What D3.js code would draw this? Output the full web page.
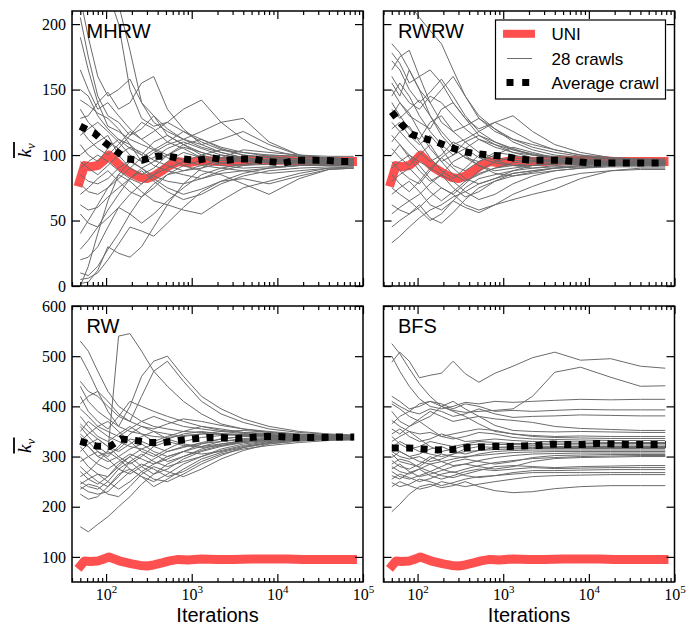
<!DOCTYPE html>
<html>
<head>
<meta charset="utf-8">
<script src="https://cdn.jsdelivr.net/npm/d3@7"></script>
<style>
  html, body { margin: 0; padding: 0; background: #fff; }
  svg { display: block; }
</style>
</head>
<body>
<svg id="chart" width="694" height="626"></svg>
<script>
// Iterations at which every individual crawl is sampled
const crawlIters = [50, 62, 80, 105, 140, 190, 260, 360, 520, 800, 1300, 2200, 4000, 8000, 18000, 40000, 78000];

// UNI: uniform sample reference, shared by all four panels
const uniIters = [47, 56, 65, 80, 95, 108, 125, 150, 200, 250, 300, 360, 450, 550, 700, 900, 1300, 2000, 3000, 5000, 8000, 13000, 20000, 35000, 55000, 85000];
const uniKv    = [76, 92, 91, 92, 96, 100, 96, 91, 86, 83, 82, 84, 88, 92, 95, 94, 96, 95, 95, 96, 96, 96, 95, 95, 95, 95];

// Average crawl per method
const mhrwAvgIters = [50, 72, 95, 131, 176, 264, 378, 541, 798, 1163, 1700, 2500, 3640, 5350, 7680, 11800, 17250, 25200, 37000, 54400, 79000];
const mhrwAvgKv    = [122, 117, 110, 103, 97, 96, 99, 99, 97, 96, 98, 96, 97, 97, 95, 94, 96, 96, 96, 95, 95];
const rwrwAvgIters = [50, 64, 84, 115, 166, 237, 331, 474, 697, 1035, 1500, 2220, 3275, 4780, 7030, 10330, 15070, 22600, 33800, 49400, 79000];
const rwrwAvgKv    = [133, 124, 116, 113, 110, 106, 103, 101, 100, 99, 97, 96, 96, 96, 95, 94, 94, 94, 94, 94, 94];
const rwAvgIters   = [50, 77, 110, 150, 214, 315, 465, 697, 1016, 1523, 2220, 3270, 4800, 7000, 10330, 15500, 22600, 33800, 49800, 79000];
const rwAvgKv      = [330, 321, 320, 335, 332, 328, 328, 332, 335, 338, 338, 336, 338, 340, 340, 338, 338, 338, 339, 339];
const bfsAvgIters  = [50, 79, 117, 171, 255, 375, 552, 806, 1186, 1762, 2590, 3810, 5660, 8330, 12280, 18200, 26800, 39400, 79000];
const bfsAvgKv     = [317, 317, 315, 313, 314, 318, 319, 320, 320, 321, 322, 325, 324, 324, 326, 325, 324, 324, 324];

// 28 individual crawls per method (values at crawlIters)
const mhrwCrawls = [
  [240, 235, 230, 225, 200, 150, 128, 122, 125, 118, 110, 104, 100, 98, 97, 96, 96],
  [235, 230, 225, 220, 215, 180, 140, 130, 120, 112, 106, 102, 98, 96, 95, 95, 95],
  [220, 190, 160, 145, 150, 158, 140, 125, 118, 112, 108, 112, 118, 108, 100, 97, 97],
  [205, 175, 145, 130, 125, 115, 120, 130, 115, 108, 100, 96, 95, 97, 96, 95, 95],
  [190, 165, 140, 122, 118, 112, 108, 104, 110, 118, 112, 106, 102, 100, 99, 98, 97],
  [165, 150, 135, 140, 130, 120, 112, 118, 125, 135, 142, 125, 112, 104, 99, 97, 96],
  [150, 145, 130, 120, 112, 105, 100, 110, 115, 108, 102, 98, 96, 95, 94, 94, 94],
  [142, 138, 132, 128, 120, 108, 95, 102, 108, 112, 118, 125, 128, 110, 100, 97, 96],
  [135, 125, 118, 110, 105, 115, 125, 120, 110, 105, 98, 94, 92, 93, 94, 95, 95],
  [128, 130, 140, 148, 135, 140, 155, 160, 135, 120, 108, 102, 98, 95, 95, 94, 94],
  [120, 112, 105, 100, 108, 118, 112, 105, 100, 96, 92, 90, 88, 90, 92, 93, 93],
  [115, 120, 125, 118, 110, 100, 95, 98, 105, 110, 105, 100, 97, 96, 95, 95, 95],
  [108, 100, 95, 105, 112, 108, 100, 92, 88, 85, 82, 88, 92, 95, 96, 96, 96],
  [100, 105, 110, 115, 100, 90, 85, 90, 100, 108, 112, 105, 100, 98, 97, 97, 97],
  [95, 90, 85, 92, 100, 106, 102, 96, 92, 88, 90, 94, 96, 94, 93, 93, 93],
  [90, 95, 100, 95, 88, 82, 78, 85, 95, 102, 98, 92, 90, 91, 92, 92, 92],
  [85, 80, 78, 82, 90, 96, 90, 84, 80, 78, 82, 86, 88, 86, 88, 90, 90],
  [78, 72, 70, 75, 82, 90, 98, 104, 98, 92, 88, 85, 78, 70, 82, 89, 90],
  [70, 75, 82, 88, 80, 72, 68, 75, 85, 92, 96, 100, 98, 95, 94, 94, 94],
  [62, 58, 60, 68, 75, 82, 88, 80, 72, 66, 70, 78, 84, 88, 90, 91, 91],
  [55, 48, 45, 52, 60, 70, 78, 85, 90, 95, 100, 104, 102, 99, 97, 96, 96],
  [40, 50, 62, 75, 85, 80, 72, 65, 62, 58, 55, 65, 75, 80, 86, 90, 91],
  [28, 35, 45, 58, 70, 82, 90, 95, 100, 106, 102, 98, 95, 94, 94, 94, 94],
  [20, 22, 30, 45, 60, 55, 48, 55, 65, 75, 85, 90, 93, 95, 96, 96, 96],
  [10, 8, 15, 28, 40, 55, 68, 78, 85, 88, 92, 96, 98, 100, 99, 98, 97],
  [5, 6, 10, 20, 32, 45, 42, 38, 48, 60, 72, 80, 82, 78, 84, 89, 90],
  [2, 3, 12, 30, 25, 22, 30, 45, 62, 78, 90, 98, 104, 102, 100, 99, 99],
  [0, 15, 40, 65, 85, 95, 90, 82, 75, 70, 74, 80, 86, 90, 92, 93, 93]
];

const rwrwCrawls = [
  [260, 230, 215, 205, 195, 185, 165, 145, 128, 118, 112, 108, 104, 100, 97, 96, 96],
  [185, 178, 165, 150, 140, 150, 160, 145, 130, 120, 110, 104, 100, 98, 97, 96, 95],
  [178, 170, 155, 160, 165, 155, 140, 128, 120, 125, 130, 118, 108, 102, 98, 97, 96],
  [172, 165, 150, 140, 148, 158, 145, 130, 118, 110, 105, 100, 98, 96, 95, 94, 94],
  [165, 175, 180, 160, 140, 125, 118, 122, 128, 120, 112, 106, 102, 99, 97, 96, 96],
  [160, 150, 140, 135, 145, 140, 130, 120, 112, 106, 102, 100, 99, 97, 96, 95, 95],
  [155, 145, 165, 150, 130, 118, 108, 112, 118, 125, 118, 110, 104, 100, 98, 97, 97],
  [150, 140, 130, 125, 120, 135, 140, 128, 115, 108, 104, 101, 98, 96, 95, 94, 94],
  [145, 155, 145, 130, 118, 108, 100, 105, 112, 108, 102, 98, 96, 95, 94, 94, 94],
  [140, 130, 120, 112, 125, 130, 118, 110, 102, 98, 96, 95, 96, 95, 94, 93, 93],
  [135, 128, 135, 142, 130, 115, 105, 98, 95, 100, 106, 102, 98, 96, 95, 95, 95],
  [130, 140, 132, 118, 105, 95, 100, 110, 115, 110, 104, 100, 97, 95, 94, 94, 94],
  [125, 118, 110, 102, 95, 100, 110, 105, 98, 94, 92, 92, 93, 94, 94, 94, 94],
  [120, 125, 115, 108, 115, 105, 92, 88, 95, 102, 100, 97, 95, 94, 93, 93, 93],
  [115, 108, 100, 95, 90, 98, 105, 98, 92, 88, 90, 92, 94, 95, 95, 95, 95],
  [110, 118, 122, 110, 98, 88, 82, 90, 100, 96, 92, 90, 91, 92, 93, 93, 93],
  [105, 98, 92, 100, 108, 95, 85, 80, 85, 90, 94, 96, 96, 95, 94, 94, 94],
  [100, 108, 98, 88, 80, 85, 95, 100, 92, 86, 84, 86, 88, 90, 92, 92, 92],
  [95, 88, 82, 78, 88, 98, 90, 82, 78, 82, 88, 92, 94, 93, 93, 93, 93],
  [90, 95, 100, 92, 82, 75, 70, 78, 88, 95, 98, 96, 95, 94, 93, 93, 93],
  [85, 78, 72, 80, 90, 85, 75, 68, 72, 80, 86, 88, 90, 91, 92, 92, 92],
  [80, 85, 90, 82, 72, 65, 72, 80, 86, 90, 92, 94, 95, 95, 95, 95, 95],
  [75, 70, 65, 70, 78, 85, 80, 72, 66, 70, 78, 84, 88, 90, 91, 91, 91],
  [70, 75, 80, 72, 62, 58, 65, 75, 82, 85, 88, 90, 92, 93, 94, 94, 94],
  [62, 58, 55, 60, 68, 75, 70, 62, 58, 62, 66, 70, 74, 82, 88, 90, 90],
  [55, 60, 65, 58, 50, 55, 65, 60, 56, 62, 70, 76, 82, 86, 88, 89, 89],
  [45, 50, 55, 62, 52, 48, 56, 66, 75, 80, 84, 87, 90, 91, 92, 92, 92],
  [33, 38, 45, 52, 58, 62, 68, 72, 78, 82, 86, 88, 90, 92, 93, 93, 93]
];

const rwCrawls = [
  [530, 510, 470, 430, 400, 385, 370, 360, 355, 350, 348, 346, 344, 342, 341, 340, 340],
  [330, 320, 300, 310, 540, 545, 510, 470, 440, 410, 385, 365, 355, 348, 344, 342, 341],
  [450, 430, 420, 400, 380, 370, 420, 470, 490, 450, 410, 385, 368, 355, 348, 344, 342],
  [500, 470, 430, 390, 360, 400, 460, 490, 500, 460, 420, 395, 375, 360, 350, 345, 343],
  [420, 390, 370, 355, 380, 410, 400, 390, 380, 370, 360, 352, 348, 346, 343, 341, 340],
  [405, 420, 430, 410, 385, 370, 360, 355, 365, 375, 370, 362, 355, 350, 345, 342, 341],
  [395, 380, 360, 350, 340, 355, 370, 380, 370, 360, 355, 350, 346, 343, 341, 340, 339],
  [380, 360, 340, 330, 345, 360, 345, 330, 340, 350, 360, 355, 348, 344, 341, 340, 339],
  [365, 350, 335, 320, 310, 325, 340, 350, 345, 340, 345, 350, 352, 348, 344, 341, 340],
  [360, 340, 320, 305, 315, 335, 330, 320, 310, 318, 328, 335, 340, 342, 340, 339, 338],
  [350, 370, 355, 340, 330, 320, 315, 325, 335, 345, 350, 345, 342, 340, 339, 338, 338],
  [345, 330, 310, 300, 320, 345, 360, 350, 335, 325, 320, 325, 332, 336, 337, 337, 337],
  [340, 320, 300, 290, 300, 315, 325, 310, 300, 310, 320, 330, 336, 338, 338, 337, 337],
  [330, 345, 360, 370, 350, 330, 310, 300, 315, 330, 338, 342, 344, 342, 340, 339, 338],
  [320, 300, 285, 275, 290, 305, 295, 285, 295, 310, 325, 335, 340, 341, 340, 339, 338],
  [310, 325, 335, 320, 300, 285, 300, 320, 330, 322, 318, 322, 328, 332, 335, 336, 336],
  [300, 280, 265, 260, 280, 300, 315, 305, 290, 300, 315, 325, 330, 334, 336, 337, 337],
  [290, 300, 310, 295, 275, 265, 280, 295, 310, 320, 326, 330, 334, 336, 337, 337, 337],
  [280, 265, 250, 240, 260, 290, 305, 290, 280, 290, 300, 312, 322, 330, 334, 336, 336],
  [270, 255, 245, 260, 285, 300, 280, 265, 275, 295, 310, 320, 328, 333, 335, 336, 336],
  [260, 270, 290, 310, 295, 275, 260, 250, 265, 285, 300, 315, 325, 331, 334, 335, 335],
  [250, 240, 235, 250, 275, 290, 270, 255, 250, 265, 285, 302, 318, 328, 333, 335, 335],
  [245, 255, 265, 250, 235, 250, 270, 285, 300, 310, 305, 310, 320, 328, 333, 335, 335],
  [240, 230, 225, 230, 250, 270, 285, 275, 260, 270, 290, 305, 315, 322, 328, 332, 333],
  [235, 245, 240, 225, 220, 240, 265, 280, 270, 260, 275, 295, 312, 325, 331, 334, 335],
  [225, 215, 220, 240, 265, 275, 260, 240, 255, 275, 295, 308, 318, 326, 331, 334, 334],
  [160, 150, 165, 180, 200, 220, 245, 265, 285, 300, 312, 322, 330, 334, 336, 337, 337],
  [440, 410, 390, 375, 360, 350, 345, 340, 338, 342, 345, 344, 343, 342, 341, 340, 340]
];

const bfsCrawls = [
  [488, 508, 490, 457, 462, 466, 490, 465, 448, 466, 480, 497, 508, 492, 495, 480, 476],
  [525, 505, 475, 445, 420, 400, 392, 388, 390, 392, 395, 420, 468, 478, 458, 440, 441],
  [500, 470, 440, 415, 400, 395, 400, 408, 405, 410, 408, 410, 412, 414, 413, 414, 414],
  [420, 410, 395, 400, 410, 405, 395, 405, 400, 390, 392, 390, 392, 394, 393, 393, 393],
  [410, 400, 390, 385, 395, 390, 380, 385, 395, 385, 378, 380, 381, 383, 382, 381, 381],
  [405, 395, 380, 370, 380, 400, 410, 395, 380, 375, 372, 368, 360, 356, 354, 352, 352],
  [390, 370, 360, 375, 390, 380, 370, 375, 380, 362, 352, 350, 349, 350, 349, 348, 348],
  [365, 380, 390, 405, 410, 400, 390, 380, 365, 350, 345, 342, 340, 341, 340, 340, 340],
  [372, 360, 350, 345, 348, 340, 345, 350, 355, 352, 345, 340, 338, 337, 336, 336, 336],
  [355, 345, 360, 370, 355, 340, 335, 340, 348, 345, 338, 335, 334, 333, 332, 332, 332],
  [345, 355, 340, 330, 335, 345, 338, 330, 332, 335, 332, 330, 330, 329, 328, 328, 328],
  [340, 325, 315, 320, 330, 325, 320, 325, 330, 328, 326, 326, 327, 326, 326, 326, 326],
  [330, 340, 350, 335, 320, 310, 315, 322, 325, 324, 324, 323, 324, 323, 323, 323, 323],
  [325, 310, 300, 305, 315, 320, 310, 305, 312, 318, 320, 321, 320, 320, 320, 320, 320],
  [318, 330, 320, 310, 305, 300, 305, 315, 320, 318, 317, 318, 318, 318, 318, 318, 318],
  [310, 300, 295, 300, 290, 295, 305, 310, 312, 314, 315, 316, 316, 316, 316, 316, 316],
  [305, 290, 285, 280, 295, 305, 300, 298, 305, 310, 312, 313, 313, 313, 313, 313, 313],
  [298, 310, 300, 290, 285, 290, 295, 300, 302, 305, 308, 309, 310, 310, 310, 310, 310],
  [292, 280, 275, 285, 300, 290, 282, 285, 292, 298, 302, 305, 306, 307, 307, 307, 307],
  [285, 295, 290, 278, 270, 280, 290, 295, 290, 285, 290, 298, 302, 303, 304, 304, 304],
  [280, 270, 265, 275, 285, 275, 268, 275, 282, 288, 292, 296, 298, 300, 301, 302, 302],
  [275, 285, 270, 260, 265, 272, 280, 285, 280, 275, 280, 290, 296, 298, 299, 300, 300],
  [270, 260, 255, 262, 270, 262, 258, 265, 272, 280, 282, 280, 278, 280, 281, 282, 282],
  [262, 255, 268, 275, 262, 255, 262, 270, 275, 272, 275, 278, 276, 277, 278, 278, 278],
  [255, 265, 258, 250, 256, 265, 270, 262, 258, 262, 268, 272, 272, 273, 274, 274, 274],
  [248, 240, 245, 255, 250, 242, 248, 255, 260, 262, 265, 268, 268, 268, 268, 268, 268],
  [240, 250, 242, 235, 240, 250, 245, 240, 245, 250, 255, 260, 262, 263, 264, 264, 264],
  [190, 205, 225, 240, 245, 238, 242, 250, 240, 232, 228, 230, 236, 240, 242, 242, 242]
];

// Axis ticks
const topKvTicks = [0, 50, 100, 150, 200];
const bottomKvTicks = [100, 200, 300, 400, 500, 600];
const iterTickExps = [2, 3, 4, 5];
const panelNames = ["MHRW", "RWRW", "RW", "BFS"];
const legendLabels = ["UNI", "28 crawls", "Average crawl"];

const SANS = "'Liberation Sans', Arial, Helvetica, sans-serif";
const SERIF = "'Liberation Serif', 'Times New Roman', 'DejaVu Serif', serif";
const UNI_COLOR = "#ff5050";
const CRAWL_COLOR = "#6b6b6b";

const svg = d3.select("#chart");

const cols = [[72, 363], [383.5, 674.5]];
const rows = [[11, 286], [306, 582]];
const kvDomains = [[0, 210], [50, 600]];
const kvTicks = [topKvTicks, bottomKvTicks];

const panels = [
  { name: panelNames[0], col: 0, row: 0, crawls: mhrwCrawls, avgIters: mhrwAvgIters, avgKv: mhrwAvgKv },
  { name: panelNames[1], col: 1, row: 0, crawls: rwrwCrawls, avgIters: rwrwAvgIters, avgKv: rwrwAvgKv },
  { name: panelNames[2], col: 0, row: 1, crawls: rwCrawls,   avgIters: rwAvgIters,   avgKv: rwAvgKv },
  { name: panelNames[3], col: 1, row: 1, crawls: bfsCrawls,  avgIters: bfsAvgIters,  avgKv: bfsAvgKv }
];

const defs = svg.append("defs");

panels.forEach((p, i) => {
  const [x0, x1] = cols[p.col];
  const [y0, y1] = rows[p.row];
  const x = d3.scaleLog().domain([40, 1e5]).range([x0, x1]);
  const y = d3.scaleLinear().domain(kvDomains[p.row]).range([y1, y0]);
  const line = d3.line().x(d => x(d[0])).y(d => y(d[1]));

  const clipId = "clip-" + i;
  defs.append("clipPath").attr("id", clipId)
    .append("rect").attr("x", x0).attr("y", y0).attr("width", x1 - x0).attr("height", y1 - y0);

  const g = svg.append("g");
  const plot = g.append("g").attr("clip-path", `url(#${clipId})`);

  // UNI reference
  plot.append("path")
    .datum(d3.zip(uniIters, uniKv))
    .attr("d", line)
    .attr("fill", "none")
    .attr("stroke", UNI_COLOR)
    .attr("stroke-width", 9)
    .attr("stroke-linejoin", "round");

  // individual crawls
  plot.selectAll("path.crawl")
    .data(p.crawls)
    .join("path")
    .attr("class", "crawl")
    .attr("d", c => line(d3.zip(crawlIters, c)))
    .attr("fill", "none")
    .attr("stroke", CRAWL_COLOR)
    .attr("stroke-width", 1);

  // average crawl (thick dotted)
  plot.append("path")
    .datum(d3.zip(p.avgIters, p.avgKv))
    .attr("d", line)
    .attr("fill", "none")
    .attr("stroke", "#000")
    .attr("stroke-width", 7)
    .attr("stroke-dasharray", "7,7.4");

  // ticks: all pointing inwards
  const majorVals = iterTickExps.map(e => Math.pow(10, e));
  const minorVals = x.ticks().filter(v => !majorVals.some(m => Math.abs(m - v) < 1e-6));

  const addAxis = (axis, tx, ty) => {
    const a = g.append("g").attr("transform", `translate(${tx},${ty})`).call(axis);
    a.select(".domain").remove();
    a.selectAll(".tick line").attr("stroke", "#000").attr("stroke-width", 1.2);
    return a;
  };

  addAxis(d3.axisBottom(x).tickValues(minorVals).tickSize(-4).tickFormat(""), 0, y1);
  const xb = addAxis(d3.axisBottom(x).tickValues(majorVals).tickSize(-8).tickFormat(""), 0, y1);
  addAxis(d3.axisTop(x).tickValues(minorVals).tickSize(-4).tickFormat(""), 0, y0);
  addAxis(d3.axisTop(x).tickValues(majorVals).tickSize(-8).tickFormat(""), 0, y0);

  const yl = addAxis(d3.axisLeft(y).tickValues(kvTicks[p.row]).tickSize(-8).tickPadding(6)
    .tickFormat(p.col === 0 ? d3.format("d") : ""), x0, 0);
  addAxis(d3.axisRight(y).tickValues(kvTicks[p.row]).tickSize(-8).tickFormat(""), x1, 0);

  yl.attr("font-family", SERIF).attr("font-size", 16);
  yl.selectAll(".tick text").attr("fill", "#000").style("font-family", SERIF);

  if (p.row === 1) {
    xb.selectAll(".tick").each(function (v) {
      const t = d3.select(this).append("text")
        .attr("y", 17.5)
        .attr("text-anchor", "middle")
        .style("font-family", SERIF)
        .attr("fill", "#000");
      t.append("tspan").attr("font-size", 16).text("10");
      t.append("tspan").attr("font-size", 11).attr("dy", -7).text(Math.round(Math.log10(v)));
    });
    g.append("text")
      .attr("x", (x0 + x1) / 2)
      .attr("y", 621.7)
      .attr("text-anchor", "middle")
      .attr("font-family", SANS)
      .attr("font-size", 20)
      .attr("fill", "#000")
      .text("Iterations");
  }

  // frame
  g.append("rect")
    .attr("x", x0).attr("y", y0)
    .attr("width", x1 - x0).attr("height", y1 - y0)
    .attr("fill", "none")
    .attr("stroke", "#000")
    .attr("stroke-width", 1.5);

  // method name
  g.append("text")
    .attr("x", x0 + 14.5)
    .attr("y", y0 + 27)
    .attr("font-family", SANS)
    .attr("font-size", 20)
    .attr("fill", "#000")
    .text(p.name);

  // y label: mean degree k_v with overline
  if (p.col === 0) {
    const cy = (y0 + y1) / 2 + 1;
    const lab = svg.append("g").attr("transform", `translate(31,${cy}) rotate(-90)`);
    const t = lab.append("text")
      .attr("x", -8).attr("y", 0)
      .style("font-family", SERIF)
      .attr("font-style", "italic")
      .attr("fill", "#000");
    t.append("tspan").attr("font-size", 19).text("k");
    t.append("tspan").attr("font-size", 13).attr("dy", 4).text("v");
    lab.append("line")
      .attr("x1", -8.5).attr("x2", 7.5)
      .attr("y1", -17).attr("y2", -17)
      .attr("stroke", "#000").attr("stroke-width", 1.8);
  }
});

// legend (top-right panel)
const legend = svg.append("g");
legend.append("rect")
  .attr("x", 495.5).attr("y", 20)
  .attr("width", 170).attr("height", 79)
  .attr("fill", "#fff")
  .attr("stroke", "#000")
  .attr("stroke-width", 1.2);

const rowY = [33.8, 58.5, 82.5];
legend.append("line").attr("x1", 503).attr("x2", 535).attr("y1", rowY[0]).attr("y2", rowY[0])
  .attr("stroke", UNI_COLOR).attr("stroke-width", 8);
legend.append("line").attr("x1", 507).attr("x2", 532).attr("y1", rowY[1]).attr("y2", rowY[1])
  .attr("stroke", CRAWL_COLOR).attr("stroke-width", 1);
legend.append("line").attr("x1", 506.5).attr("x2", 529.5).attr("y1", rowY[2]).attr("y2", rowY[2])
  .attr("stroke", "#000").attr("stroke-width", 7).attr("stroke-dasharray", "7,8.7");

legend.selectAll("text.lbl")
  .data(legendLabels)
  .join("text")
  .attr("class", "lbl")
  .attr("x", 551.5)
  .attr("y", (d, i) => rowY[i] + 6)
  .attr("font-family", SANS)
  .attr("font-size", 17)
  .attr("fill", "#000")
  .text(d => d);
</script>
</body>
</html>
